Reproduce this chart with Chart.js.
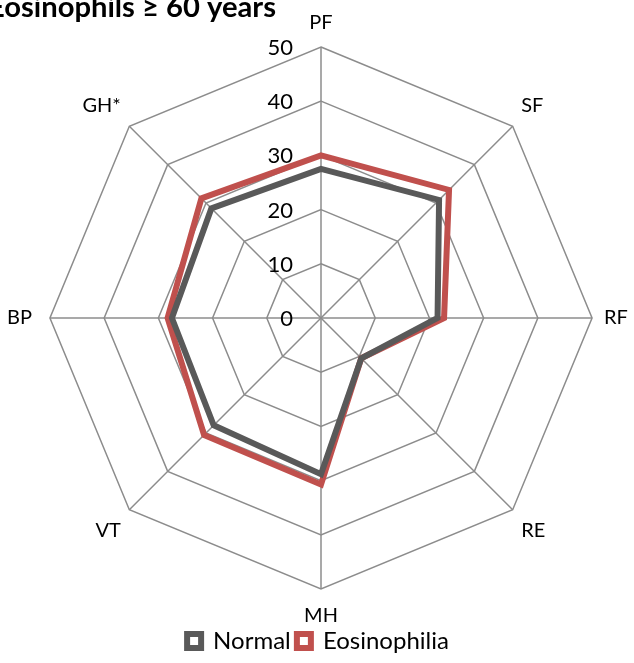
<!DOCTYPE html>
<html>
<head>
<meta charset="utf-8">
<script src="https://cdn.jsdelivr.net/npm/chart.js@4/dist/chart.umd.min.js"></script>
<style>
  html, body { margin: 0; padding: 0; background: #fff; }
  #wrap { width: 634px; height: 663px; }
</style>
</head>
<body>
<div id="wrap"><canvas id="radar"></canvas></div>
<script>
// 數據
const axes = ['PF', 'SF', 'RF', 'RE', 'MH', 'VT', 'BP', 'GH*'];
const normalValues = [27.5, 30.8, 21.5, 10.5, 28.8, 28, 27.5, 28.6];
const eosinoValues = [30, 33.4, 22.7, 10.5, 30.7, 30.5, 28.3, 31.2];
const tickValues = [0, 10, 20, 30, 40, 50];
const seriesNames = ['Normal', 'Eosinophilia'];
const seriesColors = ['#595959', '#C0504D'];
const titleText = 'Eosinophils \u2265 60 years';
// 各軸標籤與外圈的距離
const labelGaps = [12, 12, 12, 12, 14, 12, 18, 12];

const FONT = 'Lato, "Open Sans", sans-serif';

// 標題（左邊被裁掉）
const titlePlugin = {
  id: 'clippedTitle',
  afterDraw(chart) {
    const ctx = chart.ctx;
    ctx.save();
    ctx.font = 'bold 22px ' + FONT;
    const part = ctx.measureText(titleText.slice(1)).width;
    const size = 22 * 272 / part;
    ctx.font = 'bold ' + size.toFixed(1) + 'px ' + FONT;
    ctx.fillStyle = '#000';
    ctx.textAlign = 'right';
    ctx.textBaseline = 'alphabetic';
    ctx.fillText(titleText, 276, 17);
    ctx.restore();
  }
};

// 刻度文字（在軸線左邊）
const tickPlugin = {
  id: 'sideTicks',
  beforeDatasetsDraw(chart) {
    const scale = chart.scales.r;
    const ctx = chart.ctx;
    ctx.save();
    ctx.font = '22px ' + FONT;
    ctx.fillStyle = '#000';
    ctx.textAlign = 'right';
    ctx.textBaseline = 'middle';
    tickValues.forEach(v => {
      const d = scale.getDistanceFromCenterForValue(v);
      ctx.fillText(String(v), scale.xCenter - 28, scale.yCenter - d + 1);
    });
    ctx.restore();
  }
};

new Chart(document.getElementById('radar'), {
  type: 'radar',
  data: {
    labels: axes,
    datasets: [
      { label: seriesNames[0], data: normalValues, borderColor: seriesColors[0], backgroundColor: 'transparent',
        borderWidth: 6, pointRadius: 0, borderJoinStyle: 'miter', fill: false },
      { label: seriesNames[1], data: eosinoValues, borderColor: seriesColors[1], backgroundColor: 'transparent',
        borderWidth: 6, pointRadius: 0, borderJoinStyle: 'miter', fill: false }
    ]
  },
  options: {
    responsive: true,
    maintainAspectRatio: false,
    animation: false,
    layout: { padding: { left: 4, right: 2, top: 9, bottom: 0 } },
    scales: {
      r: {
        min: 0,
        max: 50,
        ticks: { stepSize: 10, display: false },
        grid: { color: '#8c8c8c', lineWidth: 1.5 },
        angleLines: { color: '#8c8c8c', lineWidth: 1.5 },
        pointLabels: {
          font: { family: FONT, size: 20 },
          color: '#000',
          padding: ctx => labelGaps[ctx.index]
        }
      }
    },
    plugins: {
      title: { display: false },
      tooltip: { enabled: false },
      legend: {
        position: 'bottom',
        labels: {
          font: { family: FONT, size: 24 },
          color: '#000',
          boxWidth: 14,
          boxHeight: 14,
          padding: 0,
          // 項目之間留一點空隙（padding 為 0 時）
          generateLabels: chart => chart.data.datasets.map((ds, i, all) => ({
            text: i < all.length - 1 ? ds.label + ' ' : ds.label,
            fillStyle: '#fff',
            strokeStyle: ds.borderColor,
            lineWidth: 6,
            fontColor: '#000',
            datasetIndex: i
          }))
        }
      }
    }
  },
  plugins: [tickPlugin, titlePlugin]
});
</script>
</body>
</html>
